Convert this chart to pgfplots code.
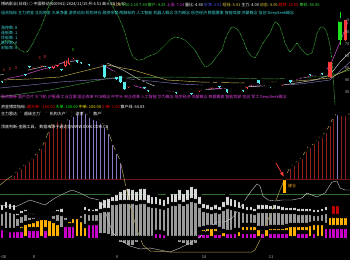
\documentclass[border=0pt]{standalone}
\usepackage{fontspec}
\setmainfont{Noto Sans CJK SC}
\usepackage{pgfplots}
\usepackage{pgfplotstable}
\pgfplotsset{compat=1.18}

\definecolor{upred}{HTML}{FF3C3C}
\definecolor{dncyan}{HTML}{54F0F0}
\definecolor{mapink}{HTML}{E050E0}
\definecolor{mawhite}{HTML}{C8C8C8}
\definecolor{mayellow}{HTML}{C8B450}
\definecolor{magreen}{HTML}{3C963C}
\definecolor{mapurple}{HTML}{9080C8}
\definecolor{oscgreen}{HTML}{48C848}
\definecolor{humpline}{HTML}{A8984C}
\definecolor{stripered}{HTML}{8C1E1E}
\definecolor{stripepur}{HTML}{8C78C8}
\definecolor{barlight}{HTML}{D8D8D8}
\definecolor{bardark}{HTML}{9A9A9A}
\definecolor{barorange}{HTML}{FFB000}
\definecolor{barmag}{HTML}{C800C8}
\definecolor{barred}{HTML}{C00000}
\definecolor{baseln}{HTML}{6E1414}
\definecolor{greenline}{HTML}{2E6E2E}
\definecolor{txtcyan}{HTML}{40D8D8}
\definecolor{txtmag}{HTML}{E040E0}
\definecolor{labgray}{HTML}{B4B4B4}
\definecolor{brightgreen}{HTML}{20E020}
\definecolor{hdyellow}{HTML}{E8D040}
\definecolor{hdgreen}{HTML}{40E040}
\definecolor{hdblue}{HTML}{5050FF}

\pgfplotsset{
  ebar/.style 2 args={only marks, mark=none, forget plot,
    error bars/y dir=plus, error bars/y explicit, error bars/error mark=none,
    error bars/error bar style={line width=#1, color=#2, solid}},
}
\tikzset{txt/.style={inner sep=0pt, anchor=west, font=\fontsize{4}{4.5}\selectfont}}

% all values in screen units of the chart (y grows downward)
% candles: day index, wick top, wick bottom, body top, body bottom
\pgfplotstableread{
i hi lo bt bb
1 75 79 76 78
2 73 77 74 76
3 73 76 74 75
4 72 76 73 75
8 64 69 65 68
9 63 67 64 66
10 62 67 63 66
13 62 69 63 68
14 61 67 62 66
16 57 67 58 66
17 54 65 55 64
18 54 59 55 58
21 61 64 62 63
23 61 65 62 64
24 62 65 63 64
25 61 65 62 64
27 71 75 72 74
28 73 77 74 76
32 83 88 84 87
33 82 86 83 85
34 81 85 82 84
38 89 93 90 92
39 88 92 89 91
40 88 91 89 90
42 87 91 88 90
43 88 92 89 91
45 90 93 91 92
47 91 94 92 93
49 90 93 91 92
50 87 92 88 91
51 87 90 88 89
52 85 89 86 88
53 84 89 85 88
56 85 89 86 88
58 87 91 88 90
59 87 91 88 90
62 83 89 84 88
63 81 86 82 85
64 81 85 82 84
66 82 86 83 85
67 83 87 84 86
69 84 88 85 87
70 83 87 84 86
71 81 86 82 85
72 80 84 81 83
74 77 81 78 80
75 75 79 76 78
76 74 78 75 77
77 73 77 74 76
79 72 76 73 75
80 73 77 74 76
82 71 75 72 74
}\upT
\pgfplotstableread{
i hi lo bt bb
0 78 83 79 82
5 72 75 73 74
6 71 76 72 75
7 63 68 64 67
11 63 67 64 66
12 64 69 65 68
15 66 71 67 70
19 57 63 58 62
20 59 64 60 63
22 61 66 62 65
26 62 78 63 77
29 74 80 75 79
30 73 83 74 82
31 79 90 80 89
35 82 85 83 84
36 84 89 85 88
37 87 92 88 91
41 89 92 90 91
44 89 94 90 93
46 90 93 91 92
48 90 95 91 94
54 85 88 86 87
55 83 88 84 87
57 86 93 87 92
60 88 91 89 90
61 87 92 88 91
65 77 84 78 83
68 84 88 85 87
73 77 83 78 82
78 71 76 72 75
81 70 75 71 74
}\dnT
\pgfplotstableread{
i hi lo bt bb
83 59 78 60 77
86.9 16 41 18 40
}\bigT
\pgfplotstableread{
i hi lo bt bb
85.6 10 45 20 40
}\grnT

% lower indicator bars (baseline 238)
\pgfplotstableread{
i top lm bot mg og rd
0 203 212 228 228 228 228
1 200 210 228 238 238 238
2 202 211 230 230 230 230
3 203 212 230 230 230 230
4 212 217 228 230 228 228
5 209 215 225 230 225 225
6 208 213 223 238 223 223
7 212 216 222 229 222 222
8 212 216 221 229 221 221
9 213 216 219 229 219 219
10 213 216 218 238 218 218
11 213 216 218 229 218 218
12 212 215 219 238 219 219
13 210 214 221 238 221 221
14 208 213 223 238 223 223
15 207 214 227 238 238 238
16 213 216 222 225 222 222
17 213 216 220 225 220 220
18 212 215 217 225 217 217
19 212 215 217 238 217 217
20 210 214 220 238 220 220
21 205 212 226 238 226 226
22 207 213 223 223 223 223
23 208 213 223 223 223 223
24 207 213 223 223 223 223
25 200 211 233 238 238 238
26 198 210 233 238 238 238
27 197 210 234 238 238 238
28 195 203 238 238 238 238
29 193 203 240 238 238 238
30 190 202 242 238 238 238
31 188 202 243 238 238 238
32 187 202 245 238 238 238
33 188 202 245 238 238 238
34 190 203 242 238 238 238
35 187 202 240 238 238 238
36 187 202 238 238 238 238
37 193 205 238 238 238 238
38 195 206 238 238 238 238
39 195 206 232 232 232 232
40 197 207 232 232 232 232
41 198 208 233 233 233 233
42 195 206 236 238 238 238
43 192 204 238 238 238 238
44 192 204 240 238 238 238
45 188 202 242 238 238 238
46 192 204 243 238 238 238
47 188 202 245 238 238 238
48 185 200 245 238 238 238
49 187 201 243 238 238 238
50 195 206 229 233 229 229
51 202 210 228 233 228 228
52 203 211 227 233 227 227
53 205 212 227 238 227 227
54 203 211 227 233 227 227
55 205 212 229 233 229 229
56 200 209 231 238 231 231
57 195 207 232 232 232 232
58 197 208 232 232 232 232
59 198 209 230 232 230 230
60 200 210 230 238 230 230
61 202 211 225 232 225 225
62 205 212 225 232 225 225
63 205 212 225 232 225 225
64 207 213 225 232 225 225
65 203 211 228 238 228 228
66 203 211 228 232 228 228
67 203 211 228 238 228 228
68 204 211 227 232 227 227
69 203 211 227 232 227 227
70 204 211 227 232 227 227
71 205 212 227 232 227 227
72 206 212 226 232 226 226
73 206 212 225 238 225 225
74 206 212 225 238 225 225
75 207 213 225 232 225 225
76 207 213 225 232 225 225
77 207 213 225 232 225 225
78 207 213 224 238 224 224
79 208 214 223 232 223 223
80 208 214 223 238 223 223
81 207 213 223 238 223 223
82 205 212 225 227 225 225
83 212 212 212 227 216 212
84 204 204 204 227 216 204
85 204 204 204 227 216 204
86 216 216 216 227 216 216
87 216 216 216 227 216 216
}\barT

\pgfplotstableread{
i t
3 174
4 170
5 167
6 163
7 160
8 157
9 152
10 147
11 140
12 130
13 122
14 120
15 121
16 122
72 175
73 167
74 164
75 160
76 157
77 150
78 146
79 142
80 139
81 136
82 131
83 124
84 117
86 114
87 114
}\stripeR
\pgfplotstableread{
i t
17 118
18 115
19 112
20 110
21 112
22 116
23 118
24 119
25 122
26 126
27 132
28 143
29 152
30 161
85 113
}\stripeP

\begin{document}
\begin{tikzpicture}[x=1pt,y=1pt]
\fill[black] (0pt,0pt) rectangle (350pt,260pt);

\begin{axis}[at={(0pt,0pt)}, anchor=south west, width=350pt, height=260pt,
  scale only axis, xmin=0, xmax=350, ymin=0, ymax=260, y dir=reverse,
  hide axis, clip=true]
% ======== price pane ========
% oscillator (dotted green)
\addplot[oscgreen, dash pattern=on 0.7pt off 0.7pt, line width=0.6pt] table {
x y
0 45
4 41
7 40
10 41
13 42
17 47
20 50
24 52
27 52
30 48
33 43
36 37
38 33
41 27
43 22
46 14
48 8
52 1
55 -4
80 -8
105 -4
109 0
113 7
117 14
120 20
124 30
127 40
130 50
133 57
137 60
140 60
144 59
147 57
152 55
157 53
162 48
167 43
171 39
175 37
180 38
185 40
190 45
195 50
200 59
205 67
208 66
212 63
217 56
222 50
225 40
228 33
231 28
233 27
237 29
240 33
244 42
247 50
251 56
255 58
259 51
263 43
267 37
270 33
273 26
275 22
278 24
280 27
283 36
285 43
288 49
290 52
294 47
297 43
302 50
307 55
312 53
315 42
317 33
320 28
322 27
325 29
327 33
330 45
332 60
333 75
334 90
335 105
};
% moving averages
\addplot[magreen, line width=0.45pt] table {
x y
0 97
50 90
110 78
175 77
275 79
330 76
350 70
};
\addplot[mapurple, line width=0.4pt] table {
x y
0 88
60 82
120 78
180 84
240 87
300 84
330 80
350 62
};
\addplot[mayellow, line width=0.45pt] table {
x y
0 80
30 79
60 77
100 67
107 65
133 70
167 80
200 82
240 83
280 82
310 80
330 78
350 68
};
\addplot[mawhite, line width=0.45pt] table {
x y
0 75
20 72
50 65
80 60
107 63
123 70
140 80
157 87
175 90
200 90
230 88
260 86
290 84
315 80
330 75
340 62
350 52
};
\addplot[mapink, line width=0.45pt] table {
x y
0 80
20 76
40 70
55 66
70 60
80 60
95 62
105 66
115 72
125 80
135 86
150 90
170 91
190 92
210 88
230 89
250 85
270 85
290 81
310 76
322 74
330 66
340 42
348 22
};
% candles
\addplot[ebar={0.5pt}{dncyan}] table[x expr=2+3.95*\thisrow{i}, y=hi, y error expr=\thisrow{lo}-\thisrow{hi}] \dnT;
\addplot[ebar={2.6pt}{dncyan}] table[x expr=2+3.95*\thisrow{i}, y=bt, y error expr=\thisrow{bb}-\thisrow{bt}] \dnT;
\addplot[ebar={0.5pt}{upred}] table[x expr=2+3.95*\thisrow{i}, y=hi, y error expr=\thisrow{lo}-\thisrow{hi}] \upT;
\addplot[ebar={2.6pt}{upred}] table[x expr=2+3.95*\thisrow{i}, y=bt, y error expr=\thisrow{bb}-\thisrow{bt}] \upT;
\addplot[ebar={1.2pt}{black}] table[x expr=2+3.95*\thisrow{i}, y expr=\thisrow{bt}+0.7, y error expr={max(\thisrow{bb}-\thisrow{bt}-1.4,0)}] \upT;
\addplot[ebar={0.5pt}{upred}] table[x expr=2+3.95*\thisrow{i}, y=hi, y error expr=\thisrow{lo}-\thisrow{hi}] \bigT;
\addplot[ebar={3.4pt}{upred}] table[x expr=2+3.95*\thisrow{i}, y=bt, y error expr=\thisrow{bb}-\thisrow{bt}] \bigT;
\addplot[ebar={0.5pt}{brightgreen}] table[x expr=2+3.95*\thisrow{i}, y=hi, y error expr=\thisrow{lo}-\thisrow{hi}] \grnT;
\addplot[ebar={3.4pt}{brightgreen}] table[x expr=2+3.95*\thisrow{i}, y=bt, y error expr=\thisrow{bb}-\thisrow{bt}] \grnT;
\node[txt, text=brightgreen, anchor=south] at (axis cs:73,52) {5};
\node[txt, text=upred, anchor=south] at (axis cs:4,72) {1};
\node[txt, text=upred, anchor=south] at (axis cs:10,70.5) {2};
\node[txt, text=upred, anchor=south] at (axis cs:16,70) {3};
\node[txt, text=upred, anchor=south] at (axis cs:40,60) {C};
\node[txt, text=upred, anchor=south] at (axis cs:45,59) {D};
% price scale labels
\node[txt, text=labgray, anchor=east] at (axis cs:349.5,20) {90};
\node[txt, text=labgray, anchor=east] at (axis cs:349.5,32) {80};
\node[txt, text=labgray, anchor=east] at (axis cs:349.5,44) {70};
\node[txt, text=labgray, anchor=east] at (axis cs:349.5,56) {60};
\node[txt, text=labgray, anchor=east] at (axis cs:349.5,68) {50};
\node[txt, text=labgray, anchor=east] at (axis cs:349.5,80) {40};
\node[txt, text=labgray, anchor=east] at (axis cs:349.5,92) {30};

% ======== lower panes ========
\addplot[ebar={0.7pt}{stripered}] table[x expr=2+3.95*\thisrow{i}, y=t, y error expr=179-\thisrow{t}] \stripeR;
\addplot[ebar={0.7pt}{stripepur}] table[x expr=2+3.95*\thisrow{i}, y=t, y error expr=179-\thisrow{t}] \stripeP;
\addplot[baseln, line width=0.6pt] coordinates {(0,179) (350,179)};
\addplot[greenline, line width=0.6pt] coordinates {(0,194) (350,194)};
\addplot[ebar={2.7pt}{barlight}] table[x expr=2+3.95*\thisrow{i}, y=top, y error expr=\thisrow{lm}-\thisrow{top}] \barT;
\addplot[ebar={2.7pt}{bardark}] table[x expr=2+3.95*\thisrow{i}, y=lm, y error expr=\thisrow{bot}-\thisrow{lm}] \barT;
\addplot[ebar={2.7pt}{barmag}] table[x expr=2+3.95*\thisrow{i}, y=mg, y error expr=238-\thisrow{mg}] \barT;
\addplot[ebar={2.7pt}{barorange}] table[x expr=2+3.95*\thisrow{i}, y=og, y error expr=\thisrow{mg}-\thisrow{og}] \barT;
\addplot[ebar={2.7pt}{barred}] table[x expr=2+3.95*\thisrow{i}, y=rd, y error expr=\thisrow{og}-\thisrow{rd}] \barT;
\addplot[mawhite, line width=0.4pt] table {
x y
0 205
15 207
30 200
45 205
55 198
65 193
72 190
80 193
90 198
100 200
104 207
108 220
113 233
120 240
130 246
140 249
150 248
160 250
170 252
180 248
190 243
200 237
210 227
217 222
225 222
232 218
240 208
247 197
252 190
257 184
260 186
263 196
268 200
275 201
282 200
292 200
302 198
307 193
312 195
317 197
325 193
332 182
337 181
340 188
345 190
350 190
};
\addplot[humpline, line width=0.5pt] table {
x y
0 185
5 181
13 175
20 168
33 158
43 145
48 133
53 122
58 120
65 122
73 115
80 110
85 112
90 117
98 119
107 128
113 145
120 160
124 178
130 205
137 230
143 245
150 251
170 252
200 252
230 252
252 252
255 250
260 240
265 227
270 215
275 203
280 190
285 178
290 167
296 162
302 157
308 147
312 145
316 141
320 137
323 135
328 128
333 118
337 113
343 114
350 114
};
\addplot[ebar={2.4pt}{barorange}] table[x=x, y=y, y error=e] {
x y e
284.5 178 15
};
\draw[upred, line width=0.7pt, -latex] (axis cs:276,163) -- (axis cs:284,177);
\node[txt, text=barorange!80!brown] at (axis cs:288,186) {建仓};
\end{axis}

% ---------------- texts ----------------
\node[txt] at (1pt,255.5pt) {\color{white}博纳影业(日线)\ ◇\ 中国移动(600941)\ 2024/11/15\ 开:6.51\ 高:6.60\ |\ 6.50};
\node[txt] at (113pt,255.5pt) {\color{hdyellow}5.00\ \color{hdgreen}5.00\ 2.15\ 7.43\ 散户:\ 4.25\ \color{txtmag}上涨:\ 7.14\ \color{white}量比:\ 4.40\ \color{hdblue}市净:\ 2.51\ \color{hdyellow}短线:\ 5.41\ \color{white}主力:\ 4.00\ \color{hdyellow}动态:\ 4.05\ \color{red}趋势:\ 20.55\ \color{hdgreen}筹码:\ 54.00};
\node[txt, text=txtcyan] at (1pt,246.5pt) {组合指标\ 主力资金\ 北向资金\ 大单净量\ 游资动向\ 机构持仓\ 融资余额\ 两融标的\ 人工智能\ 机器人概念\ 华为概念\ 低空经济\ 数据要素\ 智能驾驶\ 鸿蒙概念\ 信创\ DeepSeek概念};
\node[txt, text=txtcyan] at (1pt,232pt) {涨停数:\ 8};
\node[txt, text=txtcyan] at (1pt,227pt) {连板数:\ 1};
\node[txt, text=txtcyan] at (1pt,222pt) {炸板数:\ 1};
\node[txt, text=txtcyan] at (1pt,217pt) {跌停数:\ 0};
\node[txt, text=txtcyan] at (1pt,212pt) {封板率:\ 0};
\node[txt, text=txtmag] at (1pt,162.5pt) {融资融券\ 国产芯片\ 大飞机\ 沪股通\ 工业互联\ 国企改革\ PCB概念\ 中字头\ 央企改革\ 人工智能\ 华为概念\ 低空经济\ 鸿蒙概念\ 数据要素\ 智能驾驶\ 信创\ 军工\ DeepSeek概念};
\node[txt] at (1pt,153pt) {\color{white}资金博弈指标:\ \color{red}超大单:\ -100.00\ \color{green}大单:\ 100.00\ \color{yellow}中单:\ 100.00\ \color{red}小单:\ 1.00\ \color{white}散户线:\ 64.83};
\node[txt, text=white] at (1pt,146.5pt) {主力雷达:\ \ '超级主力'\ \ '机构大户'\ \ '游资'\ \ '散户'};
\node[txt, text=white] at (1pt,133pt) {顶底判断-金融工具，\ 数据来源于通达信WWW.XXXX.COM.CN};
\node[txt, text=labgray, anchor=west] at (0pt,3pt) {-08};
\node[txt, text=labgray, anchor=center] at (34pt,3pt) {8};
\node[txt, text=labgray, anchor=center] at (117pt,3pt) {9};
\node[txt, text=labgray, anchor=center] at (204pt,3pt) {10};
\node[txt, text=labgray, anchor=center] at (271pt,3pt) {11};

\pgfresetboundingbox
\path[use as bounding box] (0pt,0pt) rectangle (350pt,260pt);
\end{tikzpicture}
\end{document}
